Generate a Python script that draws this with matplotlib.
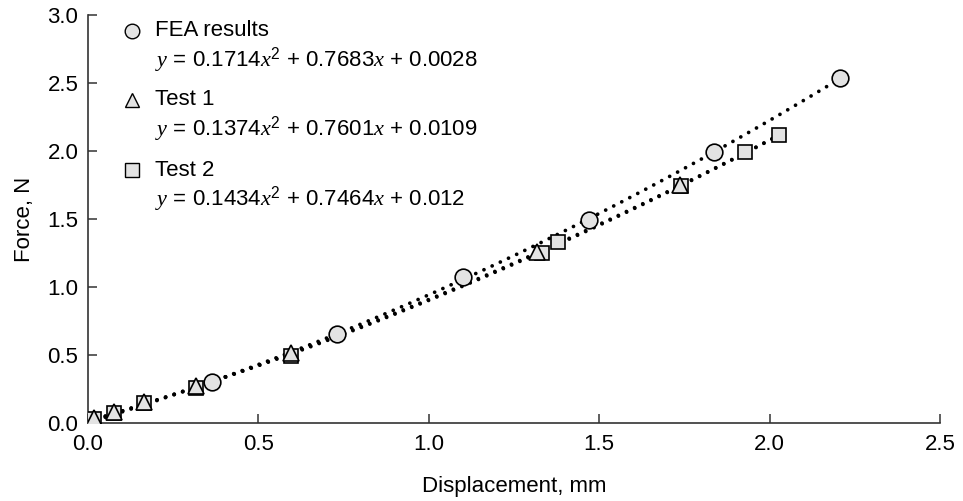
import matplotlib
matplotlib.use("Agg")
import matplotlib.pyplot as plt
import numpy as np

plt.rcParams['font.family'] = ['Liberation Sans', 'DejaVu Sans']
plt.rcParams['mathtext.fontset'] = 'custom'
plt.rcParams['mathtext.rm'] = 'Liberation Sans'
plt.rcParams['mathtext.it'] = 'Liberation Serif:italic'

# FEA results (circles)
fea_x = [0.365, 0.73, 1.10, 1.47, 1.837, 2.206]
fea_y = [0.304, 0.652, 1.076, 1.49, 1.995, 2.535]

# Test 1 (triangles)
t1_x = [0.019, 0.075, 0.163, 0.316, 0.597, 1.318, 1.737]
t1_y = [0.035, 0.083, 0.157, 0.272, 0.513, 1.26, 1.75]

# Test 2 (squares)
t2_x = [0.019, 0.075, 0.163, 0.316, 0.597, 1.333, 1.379, 1.74, 1.928, 2.029]
t2_y = [0.030, 0.071, 0.147, 0.257, 0.49, 1.252, 1.333, 1.743, 1.995, 2.118]

# quadratic fits as printed on the chart (a, b, c)
fea_fit = (0.1714, 0.7683, 0.0028)
t1_fit = (0.1374, 0.7601, 0.0109)
t2_fit = (0.1434, 0.7464, 0.012)

labels = ['FEA results', 'Test 1', 'Test 2']
eqs = [r'$y$ = 0.1714$x^{2}$ + 0.7683$x$ + 0.0028',
       r'$y$ = 0.1374$x^{2}$ + 0.7601$x$ + 0.0109',
       r'$y$ = 0.1434$x^{2}$ + 0.7464$x$ + 0.012']

fs = 16
fill = '#e3e3e3'
dots = dict(color='black', lw=2.7, linestyle=(0, (0.01, 2.4)), dash_capstyle='round', zorder=2)

fig = plt.figure(figsize=(9.63, 5.01), dpi=100)
ax = fig.add_axes([0.0914, 0.1557, 0.8847, 0.8143])

# fitted curves
xs = np.linspace(0, 2.21, 200)
ax.plot(xs, np.polyval(fea_fit, xs), **dots)
xs2 = np.linspace(0, 2.03, 200)
ax.plot(xs2, np.polyval(t1_fit, xs2), **dots)
ax.plot(xs2, np.polyval(t2_fit, xs2), **dots)

# points
ax.plot(t2_x, t2_y, 's', ms=10.5, mfc=fill, mec='black', mew=1.2, ls='none', zorder=3)
ax.plot(t1_x, t1_y, '^', ms=11, mfc=fill, mec='black', mew=1.2, ls='none', zorder=4)
ax.plot(fea_x, fea_y, 'o', ms=12, mfc=fill, mec='black', mew=1.2, ls='none', zorder=5)

# legend made by hand
markers = ['o', '^', 's']
msizes = [10.5, 10, 9.5]
rows = [0.961, 0.792, 0.620]
for m, s, lab, eq, r in zip(markers, msizes, labels, eqs, rows):
    ax.plot([0.0513], [r], m, ms=s, mfc=fill, mec='black', mew=1.0,
            transform=ax.transAxes, clip_on=False)
    ax.text(0.0786, r, lab, transform=ax.transAxes, fontsize=fs, va='center')
    ax.text(0.0786, r - 0.071, eq, transform=ax.transAxes, fontsize=fs, va='center')

ax.set_xlim(0, 2.5)
ax.set_ylim(0, 3.0)
ax.set_xticks([0, 0.5, 1.0, 1.5, 2.0, 2.5])
ax.set_yticks([0, 0.5, 1.0, 1.5, 2.0, 2.5, 3.0])
ax.xaxis.set_major_formatter(matplotlib.ticker.FormatStrFormatter('%.1f'))
ax.yaxis.set_major_formatter(matplotlib.ticker.FormatStrFormatter('%.1f'))
ax.tick_params(direction='in', length=6.5, width=1.1, labelsize=fs, color='#333333')
ax.tick_params(axis='x', pad=8)
ax.tick_params(axis='y', pad=7)
for side in ['top', 'right']:
    ax.spines[side].set_visible(False)
for side in ['left', 'bottom']:
    ax.spines[side].set_linewidth(1.2)
    ax.spines[side].set_color('#333333')

ax.set_xlabel('Displacement, mm', fontsize=fs, labelpad=15)
ax.set_ylabel('Force, N', fontsize=fs, labelpad=9)

fig.savefig('out.png', dpi=100)
